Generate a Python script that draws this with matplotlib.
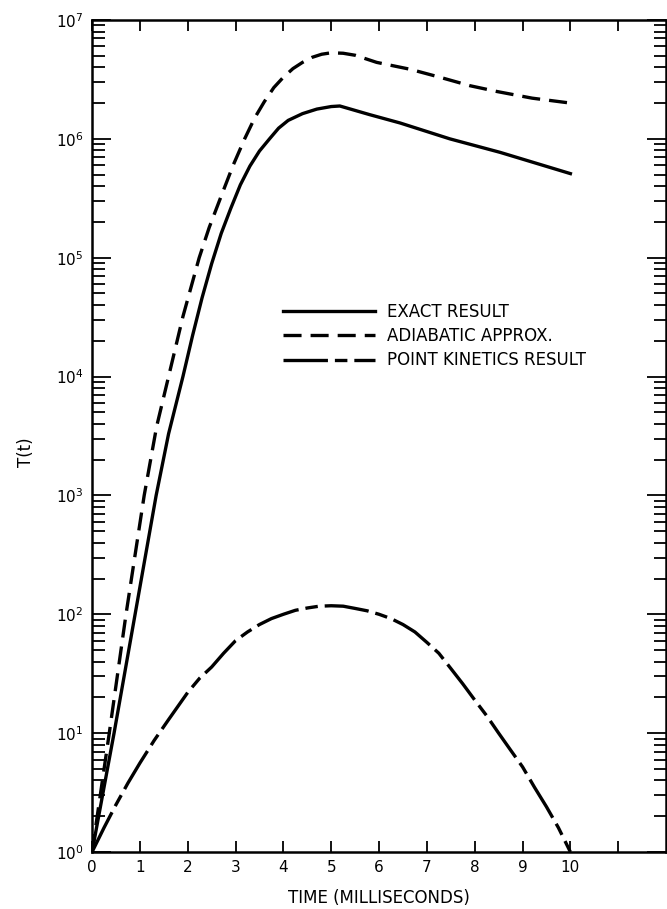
import matplotlib
matplotlib.use("Agg")
import matplotlib.pyplot as plt
from matplotlib.ticker import LogLocator, NullFormatter

plt.rcParams['font.family'] = ['DejaVu Sans']
plt.rcParams['lines.scale_dashes'] = False

# exact result (solid)
t_exact = [0, 0.46, 0.9, 1.34, 1.6, 1.9, 2.1, 2.3, 2.5, 2.7, 2.9, 3.1, 3.3, 3.5,
           3.71, 3.9, 4.1, 4.4, 4.7, 5.0, 5.18, 5.8, 6.44, 7.48, 8.53, 10]
T_exact = [1, 10, 100, 1e3, 3.3e3, 1e4, 2.2e4, 4.6e4, 8.9e4, 1.6e5, 2.6e5, 4.1e5, 5.9e5, 7.9e5,
           1e6, 1.23e6, 1.43e6, 1.63e6, 1.78e6, 1.87e6, 1.89e6, 1.6e6, 1.36e6,
           1.0e6, 7.7e5, 5.1e5]

# adiabatic approx. (short dashes)
t_adiab = [0, 0.36, 0.71, 1.09, 1.35, 1.6, 1.9, 2.24, 2.45, 2.7, 2.95, 3.19, 3.4, 3.6,
           3.8, 4.0, 4.2, 4.4, 4.6, 4.8, 5.0, 5.25, 5.5, 5.95, 6.65, 7.27, 7.9, 8.47,
           9.2, 10]
T_adiab = [1, 10, 100, 1e3, 3.8e3, 1e4, 3.2e4, 1e5, 1.8e5, 3.3e5, 6e5, 1e6, 1.5e6, 2.05e6,
           2.7e6, 3.3e6, 3.9e6, 4.4e6, 4.85e6, 5.15e6, 5.3e6, 5.25e6, 5.05e6, 4.4e6,
           3.85e6, 3.3e6, 2.8e6, 2.5e6, 2.2e6, 2.0e6]

# point kinetics result (long dashes)
t_point = [0, 0.25, 0.5, 0.75, 1.0, 1.3, 1.6, 2.0, 2.25, 2.5, 2.75, 3.0, 3.25, 3.5, 3.75,
           4.0, 4.25, 4.5, 4.75, 5.0, 5.25, 5.5, 5.75, 6.0, 6.25, 6.5, 6.75, 7.0, 7.25,
           7.5, 7.75, 8.0, 8.25, 8.5, 8.75, 9.0, 9.25, 9.5, 9.75, 10]
T_point = [1, 1.6, 2.5, 3.8, 5.6, 8.7, 13, 22, 29, 36, 47, 60, 71, 82, 92,
           100, 108, 113, 117, 118, 117, 112, 107, 100, 92, 82, 71, 58, 47,
           35, 26, 19, 14, 10, 7.2, 5.2, 3.5, 2.4, 1.6, 1]

labels = ['EXACT RESULT', 'ADIABATIC APPROX.', 'POINT KINETICS RESULT']
xtick_vals = list(range(11))
xtick_text = [str(v) for v in xtick_vals]
xtick_extra = [11]

fig = plt.figure(figsize=(6.67, 9.09), dpi=100)
ax = fig.add_axes([0.138, 0.0627, 0.8606, 0.9153])

l1, = ax.plot(t_exact, T_exact, color='black', lw=2.4, solid_joinstyle='round')
l2, = ax.plot(t_adiab, T_adiab, color='black', lw=2.4, linestyle=(0, (13, 6.5)))
l3, = ax.plot(t_point, T_point, color='black', lw=2.4, linestyle=(0, (32, 5, 9, 5)))

ax.set_yscale('log')
ax.set_xlim(0, 12)
ax.set_ylim(1, 1e7)

ax.set_xticks(xtick_vals)
ax.set_xticklabels(xtick_text, fontsize=11)
ax.set_xticks(xtick_extra, minor=True)
ax.yaxis.set_major_locator(LogLocator(base=10, numticks=10))
ax.yaxis.set_minor_locator(LogLocator(base=10, subs=range(2, 10), numticks=20))
ax.yaxis.set_minor_formatter(NullFormatter())

ax.tick_params(axis='x', which='both', direction='in', top=True, length=8, width=1.3, pad=6)
ax.tick_params(axis='y', which='major', direction='in', right=True, length=14, width=1.3,
               labelsize=11, pad=6)
ax.tick_params(axis='y', which='minor', direction='in', right=True, length=9, width=1.3)

for s in ax.spines.values():
    s.set_linewidth(1.8)

ax.set_xlabel('TIME (MILLISECONDS)', fontsize=12, labelpad=10)
ax.set_ylabel('T(t)', fontsize=12)
ax.yaxis.set_label_coords(-0.1, 0.48)

ax.legend([l1, l2, l3], labels, loc='center left', bbox_to_anchor=(0.333, 0.62),
          frameon=False, fontsize=12, handlelength=5.5, handletextpad=0.72,
          labelspacing=0.38, borderpad=0, borderaxespad=0)

fig.savefig('out.png', dpi=100)
